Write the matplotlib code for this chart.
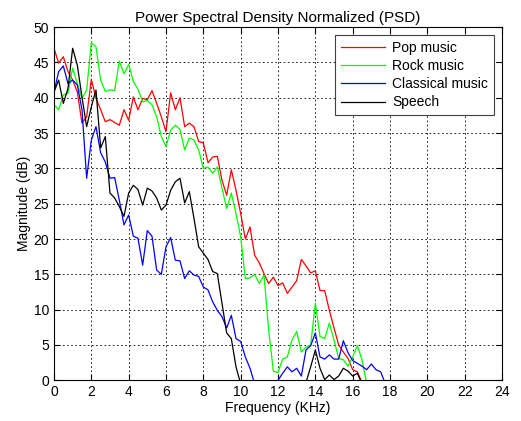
import numpy as np
import matplotlib
matplotlib.use('Agg')
import matplotlib.pyplot as plt

plt.rcParams['font.family'] = ['Liberation Sans', 'DejaVu Sans']

# spectrum bins, 0.25 kHz apart
step = 0.25

# values below 0 dB fall outside the axis and get clipped
pop = [47.0, 44.9, 45.8, 43.7, 42.5, 40.8, 36.4, 37.3, 42.6, 39.9,
       38.3, 36.6, 36.9, 36.5, 36.1, 38.3, 36.8, 40.1, 38.3, 39.9,
       39.7, 41.0, 39.2, 37.3, 35.2, 40.7, 38.3, 40.0, 35.9, 36.4,
       35.9, 33.8, 33.6, 30.8, 31.6, 31.7, 28.3, 26.2, 29.8, 26.9,
       23.6, 20.0, 21.7, 17.7, 16.6, 15.1, 13.7, 14.6, 13.4, 13.8,
       12.3, 13.2, 14.1, 17.1, 16.2, 15.2, 15.5, 12.7, 12.7, 9.9,
       7.4, 5.0, 4.0, 3.1, 1.5, 1.2, -0.3]
rock = [39.0, 38.3, 40.4, 40.6, 44.2, 42.0, 39.9, 41.1, 47.8, 47.2,
        42.5, 40.9, 41.1, 41.0, 45.2, 43.4, 44.7, 42.3, 41.2, 39.4,
        39.6, 39.0, 37.3, 34.5, 33.1, 35.4, 36.1, 35.5, 32.6, 34.3,
        34.0, 32.6, 30.0, 30.2, 29.3, 30.2, 27.2, 24.3, 26.5, 23.6,
        20.3, 14.4, 14.5, 15.0, 13.7, 14.9, 7.1, 1.3, 1.1, 3.0,
        3.3, 5.7, 6.9, 4.0, 4.7, 5.0, 10.9, 6.2, 5.9, 8.1,
        5.7, 3.1, 2.9, 2.0, 3.3, 4.9, 2.9, -0.5]
classical = [40.8, 43.7, 44.5, 42.0, 42.5, 41.8, 38.3, 28.6, 34.0, 35.9,
             32.2, 30.9, 28.6, 28.7, 25.5, 22.0, 23.4, 20.4, 20.1, 16.3,
             21.2, 20.4, 15.6, 15.0, 18.9, 20.2, 17.0, 16.9, 14.4, 15.5,
             14.9, 14.7, 13.2, 12.8, 11.1, 9.9, 9.0, 7.4, 9.2, 5.9,
             5.5, 3.3, 1.7, -0.5, -5, -5, -5, -5, 0.0, 1.0,
             1.9, 1.2, 1.7, 0.6, 4.3, 4.9, 6.7, 3.3, 3.0, 3.6,
             3.0, 3.0, 5.6, 3.9, 2.8, 2.4, 2.0, 1.5, 2.3, 1.5,
             1.2, -0.5]
speech = [40.8, 42.5, 39.2, 41.3, 47.0, 44.6, 40.1, 35.9, 38.7, 41.1,
          32.9, 34.5, 26.5, 25.8, 24.6, 23.2, 26.5, 27.6, 27.0, 24.8,
          27.2, 26.8, 25.8, 24.1, 24.8, 26.9, 28.1, 28.6, 25.1, 26.7,
          22.9, 18.9, 18.0, 17.1, 15.4, 15.1, 10.9, 6.7, 5.9, 1.9,
          -0.5, -5, -5, -5, -5, -5, -5, -5, -5, -5,
          -5, -5, -5, -5, -0.3, 1.9, 4.3, 1.7, 0.1, 0.75,
          0.1, 0.6, 1.7, 1.3, 0.6, 1.0, -0.5]

labels = ['Pop music', 'Rock music', 'Classical music', 'Speech']
colors = ['#ff0000', '#00ff00', '#0000ff', '#000000']

fig = plt.figure(figsize=(5.21, 4.21), dpi=100)
ax = fig.add_axes([0.1036, 0.0967, 0.86, 0.839])

for vals, lab, col in zip([pop, rock, classical, speech], labels, colors):
    freq = np.arange(len(vals)) * step
    ax.plot(freq, vals, color=col, lw=0.9, label=lab)

ax.set_xlim(0, 24)
ax.set_ylim(0, 50)
ax.set_xticks(np.arange(0, 25, 2))
ax.set_yticks(np.arange(0, 51, 5))
ax.grid(True, color='black', linestyle=(0, (2, 3)), linewidth=0.6)
ax.tick_params(direction='in', top=True, right=True, labelsize=10, length=4)
for s in ax.spines.values():
    s.set_linewidth(0.8)

ax.set_title('Power Spectral Density Normalized (PSD)', fontsize=11, pad=4)
ax.set_xlabel('Frequency (KHz)', fontsize=10, labelpad=1)
ax.set_ylabel('Magnitude (dB)', fontsize=10, labelpad=2)

leg = ax.legend(loc='upper right', fontsize=10, fancybox=False,
                framealpha=1, edgecolor='#404040', handlelength=3.2,
                borderaxespad=0.6, labelspacing=0.3, handletextpad=0.5,
                borderpad=0.4)
leg.get_frame().set_linewidth(0.8)

fig.savefig('out.png', dpi=100)
